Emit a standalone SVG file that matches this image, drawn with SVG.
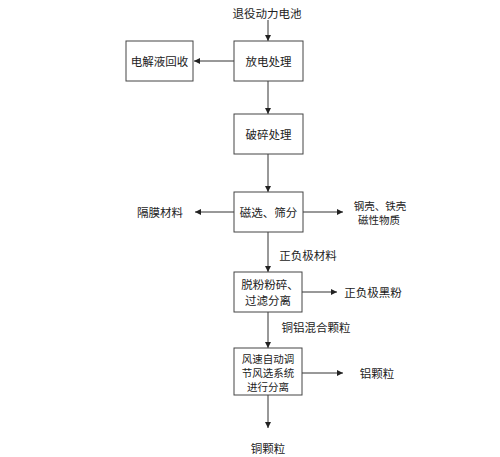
<svg xmlns="http://www.w3.org/2000/svg" width="500" height="457" viewBox="0 0 500 457">
<defs>
<marker id="ah" viewBox="0 0 8 8" refX="8" refY="4" markerWidth="6" markerHeight="6" orient="auto" markerUnits="userSpaceOnUse">
<path d="M0,0 L8,4 L0,8 Z" fill="#222"/>
</marker>
</defs>
<style>
.box{fill:#fff;stroke:#444;stroke-width:1}
.t{font-family:"Noto Sans CJK SC","Noto Sans CJK JP",sans-serif;font-size:11.5px;fill:#222;text-anchor:middle;dominant-baseline:central}
.m{font-size:10.5px}
.c{stroke:#333;stroke-width:1;fill:none;marker-end:url(#ah)}
</style>
<rect width="500" height="457" fill="#fff"/>
<g id="connectors">
<line class="c" x1="268" y1="20" x2="268" y2="41"/>
<line class="c" x1="234" y1="61" x2="194" y2="61"/>
<line class="c" x1="268" y1="81" x2="268" y2="114"/>
<line class="c" x1="268" y1="154" x2="268" y2="192"/>
<line class="c" x1="234" y1="212" x2="195" y2="212"/>
<line class="c" x1="303" y1="212" x2="343" y2="212"/>
<line class="c" x1="268" y1="232" x2="268" y2="272"/>
<line class="c" x1="302" y1="292" x2="337" y2="292"/>
<line class="c" x1="268" y1="312" x2="268" y2="348"/>
<line class="c" x1="302" y1="373" x2="343" y2="373"/>
<line class="c" x1="268" y1="395" x2="268" y2="428"/>
</g>
<g id="input"><text class="t" x="267" y="13">退役动力电池</text></g>
<g id="discharge"><rect class="box" x="234" y="41" width="69" height="40"/><text class="t" x="268.5" y="61">放电处理</text></g>
<g id="electrolyte"><rect class="box" x="126" y="41" width="67" height="40"/><text class="t" x="159.5" y="61">电解液回收</text></g>
<g id="crush"><rect class="box" x="234" y="114" width="69" height="40"/><text class="t" x="268.5" y="134">破碎处理</text></g>
<g id="magnetic"><rect class="box" x="234" y="192" width="69" height="40"/><text class="t" x="268.5" y="212">磁选、筛分</text></g>
<g id="separator"><text class="t" x="160" y="212">隔膜材料</text></g>
<g id="shell"><text class="t m" x="380" y="205">钢壳、铁壳</text><text class="t m" x="379" y="219">磁性物质</text></g>
<g id="electrode-label"><text class="t" x="308" y="255">正负极材料</text></g>
<g id="powder"><rect class="box" x="234" y="272" width="68" height="40"/><text class="t" x="270" y="284">脱粉粉碎、</text><text class="t" x="268" y="300">过滤分离</text></g>
<g id="black"><text class="t" x="373" y="292">正负极黑粉</text></g>
<g id="mix-label"><text class="t" x="316" y="327">铜铝混合颗粒</text></g>
<g id="wind"><rect class="box" x="234" y="348" width="68" height="47"/><text class="t m" x="268" y="358">风速自动调</text><text class="t m" x="268" y="372">节风选系统</text><text class="t m" x="268" y="386">进行分离</text></g>
<g id="al"><text class="t" x="377" y="373">铝颗粒</text></g>
<g id="cu"><text class="t" x="268" y="448">铜颗粒</text></g>
</svg>
